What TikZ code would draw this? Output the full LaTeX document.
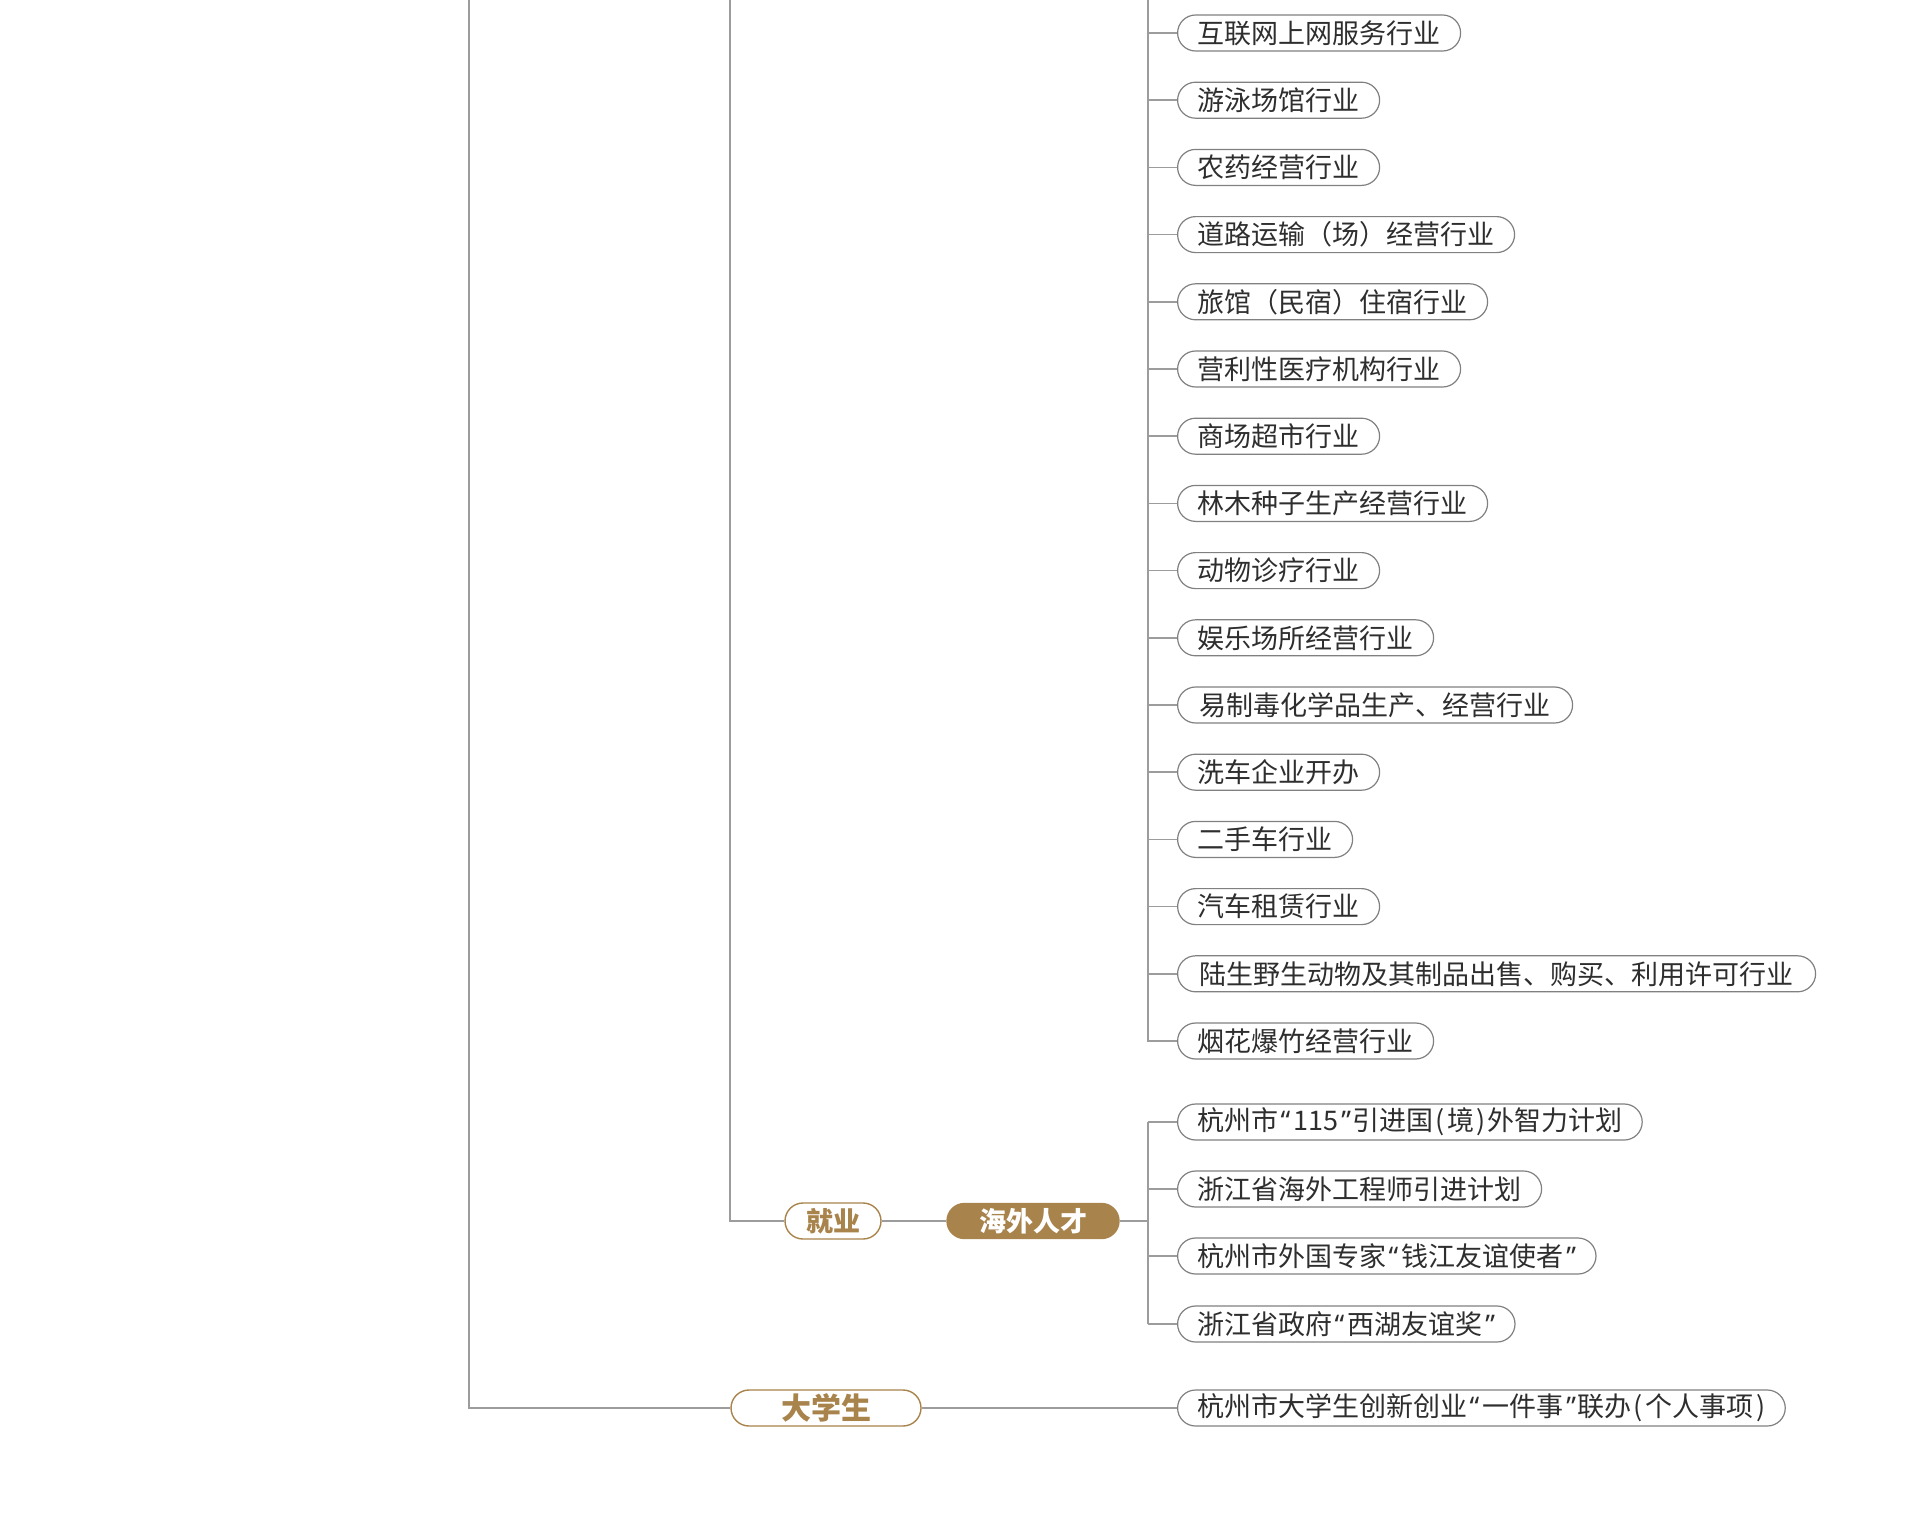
\documentclass[tikz,border=0pt]{standalone}
\usepackage{fontspec}
\newfontfamily\cjk{Noto Sans CJK SC}
\newfontfamily\latq{Noto Sans}
\newcommand{\myLq}{\hspace{2pt}{\latq “}\hspace{3pt}}
\newcommand{\myRq}{\hspace{3pt}{\latq ”}\hspace{2pt}}
\newcommand{\myLp}{\hspace{2pt}(\hspace{2pt}}
\newcommand{\myRp}{\hspace{2pt})\hspace{2pt}}
\definecolor{gold}{HTML}{A8834B}
\definecolor{linegray}{HTML}{9C9C9C}
\definecolor{pillgray}{HTML}{808080}
\definecolor{textdark}{HTML}{2E2E2E}
\tikzset{
  conn/.style={draw=linegray, line width=1.5pt},
  item/.style={draw=pillgray, line width=1.2pt, rounded corners=18pt, minimum height=36pt,
    inner xsep=20pt, inner ysep=0pt, anchor=west, text=textdark,
    font=\cjk\fontsize{27}{30}\selectfont},
  goldpill/.style={draw=gold, line width=1.4pt, rounded corners=18pt, minimum height=36pt,
    inner ysep=0pt, text=gold, font=\cjk\bfseries\fontsize{27}{30}\selectfont},
  goldfill/.style={fill=gold, draw=gold, line width=1.4pt, rounded corners=17.5pt, minimum height=35pt,
    inner ysep=0pt, text=white, font=\cjk\bfseries\fontsize{27}{30}\selectfont},
}
\begin{document}
\begin{tikzpicture}[x=1pt,y=-1pt]
\useasboundingbox (0,0) rectangle (1920,1534);
% items of the long list
\node[item] (i0)  at (1177,33)    {互联网上网服务行业};
\node[item] (i1)  at (1177,100.2) {游泳场馆行业};
\node[item] (i2)  at (1177,167.4) {农药经营行业};
\node[item] (i3)  at (1177,234.6) {道路运输（场）经营行业};
\node[item] (i4)  at (1177,301.8) {旅馆（民宿）住宿行业};
\node[item] (i5)  at (1177,369)   {营利性医疗机构行业};
\node[item] (i6)  at (1177,436.2) {商场超市行业};
\node[item] (i7)  at (1177,503.4) {林木种子生产经营行业};
\node[item] (i8)  at (1177,570.6) {动物诊疗行业};
\node[item] (i9)  at (1177,637.8) {娱乐场所经营行业};
\node[item, inner xsep=22pt] (i10) at (1177,705)   {易制毒化学品生产、经营行业};
\node[item] (i11) at (1177,772.2) {洗车企业开办};
\node[item] (i12) at (1177,839.4) {二手车行业};
\node[item] (i13) at (1177,906.6) {汽车租赁行业};
\node[item, inner xsep=22pt] (i14) at (1177,973.8) {陆生野生动物及其制品出售、购买、利用许可行业};
\node[item] (i15) at (1177,1041)  {烟花爆竹经营行业};
% overseas talent items
\node[item] (i16) at (1177,1122)  {杭州市\myLq 115\myRq 引进国\myLp 境\myRp 外智力计划};
\node[item] (i17) at (1177,1189)  {浙江省海外工程师引进计划};
\node[item] (i18) at (1177,1256)  {杭州市外国专家\myLq 钱江友谊使者\myRq};
\node[item] (i19) at (1177,1324)  {浙江省政府\myLq 西湖友谊奖\myRq};
\node[item] (i20) at (1177,1408)  {杭州市大学生创新创业\myLq 一件事\myRq 联办\myLp 个人事项\hspace{3pt})};
% category nodes
\node[goldpill, inner xsep=21pt] (jiuye) at (833,1221) {就业};
\node[goldfill, inner xsep=32pt] (haiwai) at (1033,1221) {海外人才};
\node[goldpill, inner xsep=50pt, font=\cjk\bfseries\fontsize{30}{32}\selectfont] (dxs) at (826,1408) {大学生};
% coordinates
\coordinate (topA) at (469,0);
\coordinate (topB) at (730,0);
\coordinate (topC) at (1148,0);
\coordinate (busC) at (1148,1221);
% main trunk
\draw[conn] (topA) |- (dxs.west);
\draw[conn] (dxs.east) -- (i20.west);
\draw[conn] (topB) |- (jiuye.west);
\draw[conn] (jiuye.east) -- (haiwai.west);
\draw[conn] (haiwai.east) -- (busC);
% list bus
\draw[conn] (topC) |- (i15.west);
\foreach \n in {i0,i1,i2,i3,i4,i5,i6,i7,i8,i9,i10,i11,i12,i13,i14}{
  \draw[conn] (topC |- \n.west) -- (\n.west);
}
% overseas bus
\draw[conn] (i16.west -| topC) -- (i19.west -| topC);
\foreach \n in {i16,i17,i18,i19}{
  \draw[conn] (topC |- \n.west) -- (\n.west);
}
\end{tikzpicture}
\end{document}
